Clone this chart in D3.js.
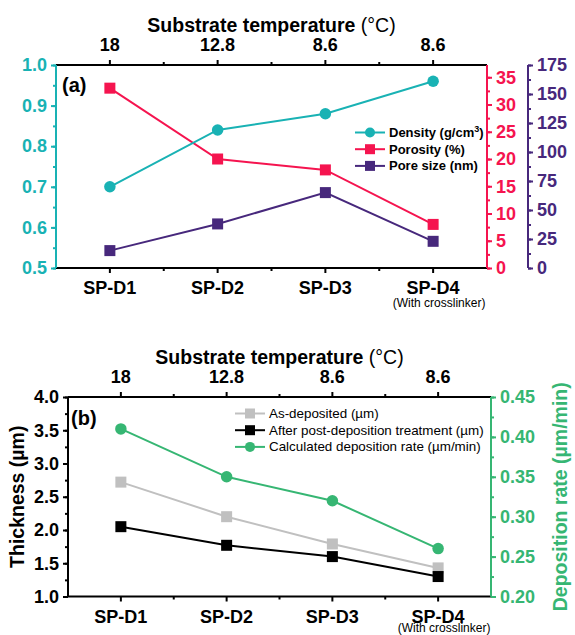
<!DOCTYPE html>
<html>
<head>
<meta charset="utf-8">
<script src="https://cdn.jsdelivr.net/npm/d3@7"></script>
<style>
  body { margin: 0; background: #fff; }
  svg { font-family: "Liberation Sans", Arial, sans-serif; }
</style>
</head>
<body>
<div id="chart"></div>
<script>
// sample names and the substrate temperature shown on top
var samples = ["SP-D1", "SP-D2", "SP-D3", "SP-D4"];
var temps = ["18", "12.8", "8.6", "8.6"];

// panel (a)
var density = [0.70, 0.84, 0.88, 0.96];
var porosity = [33, 20, 18, 8];
var poreSize = [15, 38, 65, 23];

// panel (b)
var asDeposited = [2.72, 2.20, 1.79, 1.43];
var afterTreatment = [2.05, 1.77, 1.60, 1.30];
var depRate = [0.41, 0.35, 0.32, 0.26];

var densityTicks = [0.5, 0.6, 0.7, 0.8, 0.9, 1.0];
var porosityTicks = [0, 5, 10, 15, 20, 25, 30, 35];
var poreTicks = [0, 25, 50, 75, 100, 125, 150, 175];
var thickTicks = [1.0, 1.5, 2.0, 2.5, 3.0, 3.5, 4.0];
var rateTicks = [0.20, 0.25, 0.30, 0.35, 0.40, 0.45];

var cyan = "#19b2b4", pink = "#f5144f", purple = "#47287c";
var grey = "#c0c0c0", green = "#36b673";

var width = 575, height = 635;
var svg = d3.select('#chart').append('svg')
  .attr('width', width)
  .attr('height', height);

function rng(lo, hi, step) {
  var out = [];
  for (var v = lo; v <= hi + 1e-9; v += step) out.push(+v.toFixed(4));
  return out;
}

// draws an axis plus its minor ticks in one colour
function yAxis(g, scale, side, major, minor, fmt, color) {
  var mk = side == 'left' ? d3.axisLeft : d3.axisRight;
  g.append('g').call(mk(scale).tickValues(minor).tickSize(3).tickFormat(''));
  g.append('g').call(mk(scale).tickValues(major).tickSize(5).tickPadding(4).tickFormat(fmt));
  g.selectAll('path, line').attr('stroke', color).attr('stroke-width', 2);
  g.selectAll('path').attr('d', function() {
    var r = scale.range();
    return 'M0,' + r[0] + 'V' + r[1];
  });
  g.selectAll('text').attr('fill', color)
    .style('font-size', '18px').style('font-weight', 'bold');
}

function xAxes(g, x, top, bottom, noteY) {
  var step = x.step();
  var mids = samples.slice(0, 3).map(function(s) { return x(s) + step / 2; });
  var r = x.range();
  [top, bottom].forEach(function(yy, i) {
    var dir = i == 0 ? -1 : 1;
    g.append('line').attr('x1', r[0]).attr('x2', r[1]).attr('y1', yy).attr('y2', yy)
      .attr('stroke', '#000').attr('stroke-width', 2);
    g.selectAll(null).data(samples).enter().append('line')
      .attr('x1', function(d) { return x(d); }).attr('x2', function(d) { return x(d); })
      .attr('y1', yy).attr('y2', yy + dir * 5)
      .attr('stroke', '#000').attr('stroke-width', 2);
    g.selectAll(null).data(mids).enter().append('line')
      .attr('x1', function(d) { return d; }).attr('x2', function(d) { return d; })
      .attr('y1', yy).attr('y2', yy + dir * 3)
      .attr('stroke', '#000').attr('stroke-width', 2);
  });
  // category labels
  g.selectAll(null).data(samples).enter().append('text')
    .attr('x', function(d) { return x(d); })
    .attr('y', bottom + 26)
    .attr('text-anchor', 'middle')
    .style('font-size', '18px').style('font-weight', 'bold')
    .text(function(d) { return d; });
  g.append('text')
    .attr('x', x('SP-D4') + 6).attr('y', noteY)
    .attr('text-anchor', 'middle').style('font-size', '12px')
    .text('(With crosslinker)');
  // temperatures on top
  g.selectAll(null).data(temps).enter().append('text')
    .attr('x', function(d, i) { return x(samples[i]); })
    .attr('y', top - 14)
    .attr('text-anchor', 'middle')
    .style('font-size', '18px').style('font-weight', 'bold')
    .text(function(d) { return d; });
  var t = g.append('text')
    .attr('x', (r[0] + r[1]) / 2).attr('y', top - 33)
    .attr('text-anchor', 'middle')
    .style('font-size', '19.5px').style('font-weight', 'bold');
  t.append('tspan').text('Substrate temperature ');
  t.append('tspan').style('font-weight', 'normal').text('(°C)');
}

function series(g, x, y, vals, color, shape, size) {
  var line = d3.line()
    .x(function(d, i) { return x(samples[i]); })
    .y(function(d) { return y(d); });
  g.append('path').datum(vals).attr('d', line)
    .attr('fill', 'none').attr('stroke', color).attr('stroke-width', 2);
  marker(g, vals.map(function(d, i) { return [x(samples[i]), y(d)]; }), color, shape, size);
}

function marker(g, pts, color, shape, size) {
  pts.forEach(function(p) {
    if (shape == 'circle') {
      g.append('circle').attr('cx', p[0]).attr('cy', p[1]).attr('r', size / 2).attr('fill', color);
    } else {
      g.append('rect').attr('x', p[0] - size / 2).attr('y', p[1] - size / 2)
        .attr('width', size).attr('height', size).attr('fill', color);
    }
  });
}

function legend(g, x0, y0, rows, bold) {
  rows.forEach(function(r, i) {
    var yy = y0 + i * 16.7;
    g.append('line').attr('x1', x0).attr('x2', x0 + 30).attr('y1', yy).attr('y2', yy)
      .attr('stroke', r.color).attr('stroke-width', 2);
    marker(g, [[x0 + 15, yy]], r.color, r.shape, 10);
    var t = g.append('text').attr('x', x0 + 34).attr('y', yy + 4.5)
      .style('font-size', bold ? '13px' : '13.4px')
      .style('font-weight', bold ? 'bold' : 'normal');
    r.label.forEach(function(part) {
      var s = t.append('tspan').text(part[0]);
      if (part[1]) s.attr('baseline-shift', 'super').style('font-size', '9px');
    });
  });
}

// ---------- panel (a) ----------
var ga = svg.append('g');
var xa = d3.scalePoint().domain(samples).range([56, 487]).padding(0.5);
var yDen = d3.scaleLinear().domain([0.5, 1.0]).range([268, 65]);
var yPor = d3.scaleLinear().domain([0, 37.25]).range([268, 65]);
var yPore = d3.scaleLinear().domain([0, 175]).range([268, 65]);

xAxes(ga, xa, 65, 268, 307);
yAxis(ga.append('g').attr('transform', 'translate(56,0)'), yDen, 'left',
  densityTicks, rng(0.5, 1.0, 0.05), d3.format('.1f'), cyan);
yAxis(ga.append('g').attr('transform', 'translate(487,0)'), yPor, 'right',
  porosityTicks, rng(0, 37, 2.5), d3.format('d'), pink);
yAxis(ga.append('g').attr('transform', 'translate(528,0)'), yPore, 'right',
  poreTicks, rng(0, 175, 12.5), d3.format('d'), purple);

series(ga, xa, yPor, porosity, pink, 'square', 11);
series(ga, xa, yDen, density, cyan, 'circle', 11.5);
series(ga, xa, yPore, poreSize, purple, 'square', 11);

ga.append('text').attr('x', 62).attr('y', 92)
  .style('font-size', '20px').style('font-weight', 'bold').text('(a)');

legend(ga, 355, 132.5, [
  { color: cyan, shape: 'circle', label: [['Density (g/cm'], ['3', true], [')']] },
  { color: pink, shape: 'square', label: [['Porosity (%)']] },
  { color: purple, shape: 'square', label: [['Pore size (nm)']] }
], true);

// ---------- panel (b) ----------
var gb = svg.append('g');
var xb = d3.scalePoint().domain(samples).range([68, 491]).padding(0.5);
var yThick = d3.scaleLinear().domain([1.0, 4.0]).range([596.5, 397]);
var yRate = d3.scaleLinear().domain([0.20, 0.45]).range([596.5, 397]);

xAxes(gb, xb, 397, 596.5, 632);
yAxis(gb.append('g').attr('transform', 'translate(68,0)'), yThick, 'left',
  thickTicks, rng(1.0, 4.0, 0.25), d3.format('.1f'), '#000');
yAxis(gb.append('g').attr('transform', 'translate(491,0)'), yRate, 'right',
  rateTicks, rng(0.20, 0.45, 0.025), d3.format('.2f'), green);

series(gb, xb, yThick, asDeposited, grey, 'square', 11);
series(gb, xb, yThick, afterTreatment, '#000', 'square', 11);
series(gb, xb, yRate, depRate, green, 'circle', 11.5);

gb.append('text').attr('x', 71).attr('y', 425)
  .style('font-size', '20px').style('font-weight', 'bold').text('(b)');

gb.append('text')
  .attr('transform', 'translate(24,' + ((397 + 596.5) / 2) + ') rotate(-90)')
  .attr('text-anchor', 'middle')
  .style('font-size', '19.5px').style('font-weight', 'bold')
  .text('Thickness (µm)');
gb.append('text')
  .attr('transform', 'translate(567,' + ((397 + 596.5) / 2) + ') rotate(-90)')
  .attr('text-anchor', 'middle').attr('fill', green)
  .style('font-size', '19.5px').style('font-weight', 'bold')
  .text('Deposition rate (µm/min)');

legend(gb, 235, 413.5, [
  { color: grey, shape: 'square', label: [['As-deposited (µm)']] },
  { color: '#000', shape: 'square', label: [['After post-deposition treatment (µm)']] },
  { color: green, shape: 'circle', label: [['Calculated deposition rate (µm/min)']] }
], false);
</script>
</body>
</html>
